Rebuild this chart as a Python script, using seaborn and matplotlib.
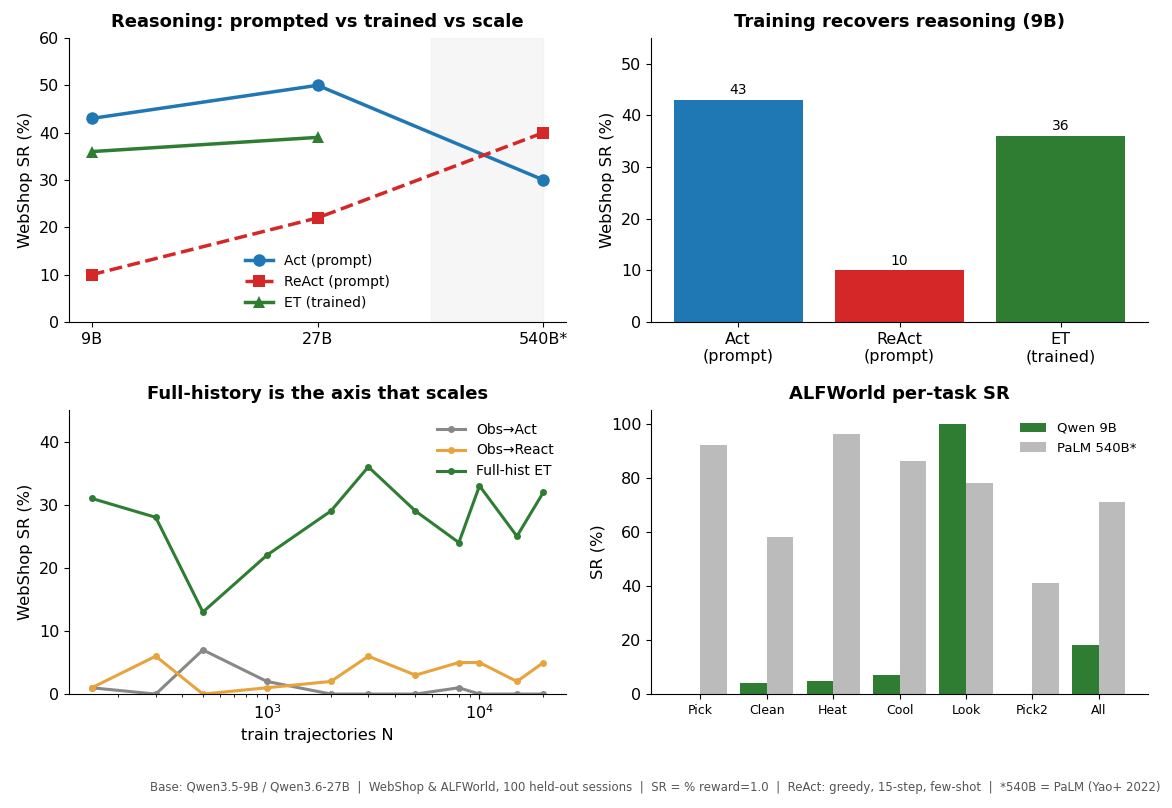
import numpy as np
import pandas as pd
import seaborn as sns
import matplotlib.pyplot as plt
from matplotlib.ticker import MultipleLocator

plt.rcParams['font.family'] = ['DejaVu Sans']

# panel 1: prompted vs trained vs scale
sizes = ["9B", "27B", "540B*"]
act_prompt = [43, 50, 30]
react_prompt = [10, 22, 40]
et_trained = [36, 39, np.nan]

# panel 2: 9B bars
methods = ["Act\n(prompt)", "ReAct\n(prompt)", "ET\n(trained)"]
sr_9b = [43, 10, 36]

# panel 3: scaling with N
n_traj = [150, 300, 500, 1000, 2000, 3000, 5000, 8000, 10000, 15000, 20000]
obs_act = [1, 0, 7, 2, 0, 0, 0, 1, 0, 0, 0]
obs_react = [1, 6, 0, 1, 2, 6, 3, 5, 5, 2, 5]
full_et = [31, 28, 13, 22, 29, 36, 29, 24, 33, 25, 32]

# panel 4: ALFWorld per task
tasks = ["Pick", "Clean", "Heat", "Cool", "Look", "Pick2", "All"]
qwen_9b = [0, 4, 5, 7, 100, 0, 18]
palm_540b = [92, 58, 96, 86, 78, 41, 71]

BLUE, RED, GREEN = '#1f77b4', '#d62728', '#2e7d32'
ORANGE, GREY = '#e8a33d', '#888888'
LAB, TCK = 11.7, 11.5

fig, axes = plt.subplots(2, 2, figsize=(11.72, 8.08), dpi=100)

# --- top left
ax = axes[0, 0]
xs = np.arange(len(sizes))
ax.axvspan(1.5, 2.0, color='#eeeeee', alpha=0.5, zorder=0)
sns.lineplot(x=xs, y=act_prompt, ax=ax, color=BLUE, marker='o', markersize=9,
             linewidth=2.5, label='Act (prompt)', markeredgewidth=0)
sns.lineplot(x=xs, y=react_prompt, ax=ax, color=RED, marker='s', markersize=8,
             linewidth=2.5, linestyle='--', label='ReAct (prompt)', markeredgewidth=0)
sns.lineplot(x=xs[:2], y=et_trained[:2], ax=ax, color=GREEN, marker='^', markersize=8,
             linewidth=2.5, label='ET (trained)', markeredgewidth=0)
ax.set_xticks(xs)
ax.set_xticklabels(sizes)
ax.set_xlim(-0.1, 2.1)
ax.set_ylim(0, 60)
ax.set_ylabel('WebShop SR (%)', fontsize=LAB)
ax.tick_params(labelsize=TCK)
ax.set_title('Reasoning: prompted vs trained vs scale', fontsize=13, fontweight='bold', pad=8)
ax.legend(loc='lower center', frameon=False, fontsize=10)

# --- top right
ax = axes[0, 1]
df2 = pd.DataFrame({'method': methods, 'sr': sr_9b})
sns.barplot(data=df2, x='method', y='sr', hue='method', ax=ax,
            palette=[BLUE, RED, GREEN], saturation=1, width=0.8, legend=False,
            linewidth=0, edgecolor='none')
for c in ax.containers:
    ax.bar_label(c, fontsize=10, padding=2)
ax.set_xlim(-0.54, 2.54)
ax.set_ylim(0, 55)
ax.set_xlabel('')
ax.set_ylabel('WebShop SR (%)', fontsize=LAB)
ax.tick_params(labelsize=TCK)
ax.set_title('Training recovers reasoning (9B)', fontsize=13, fontweight='bold', pad=8)

# --- bottom left
ax = axes[1, 0]
for vals, col, lab in [(obs_act, GREY, 'Obs→Act'), (obs_react, ORANGE, 'Obs→React'),
                       (full_et, GREEN, 'Full-hist ET')]:
    sns.lineplot(x=n_traj, y=vals, ax=ax, color=col, marker='o', markersize=5,
                 linewidth=2.2, label=lab, markeredgewidth=0)
ax.set_xscale('log')
ax.set_ylim(0, 45)
ax.yaxis.set_major_locator(MultipleLocator(10))
ax.set_xlabel('train trajectories N', fontsize=LAB)
ax.set_ylabel('WebShop SR (%)', fontsize=LAB)
ax.tick_params(labelsize=TCK)
ax.set_title('Full-history is the axis that scales', fontsize=13, fontweight='bold', pad=8)
ax.legend(loc='upper right', frameon=False, fontsize=10)

# --- bottom right
ax = axes[1, 1]
df4 = pd.DataFrame({'task': tasks * 2, 'sr': qwen_9b + palm_540b,
                    'model': ['Qwen 9B'] * len(tasks) + ['PaLM 540B*'] * len(tasks)})
sns.barplot(data=df4, x='task', y='sr', hue='model', ax=ax,
            palette=[GREEN, '#bbbbbb'], saturation=1, width=0.8,
            linewidth=0, edgecolor='none')
ax.set_xlim(-0.74, 6.74)
ax.set_ylim(0, 105)
ax.set_xlabel('')
ax.set_ylabel('SR (%)', fontsize=LAB)
ax.tick_params(axis='y', labelsize=TCK)
ax.tick_params(axis='x', labelsize=9)
ax.set_title('ALFWorld per-task SR', fontsize=13, fontweight='bold', pad=8)
ax.legend(loc='upper right', frameon=False, fontsize=9.5, title=None)

for a in axes.flat:
    sns.despine(ax=a)

fig.text(0.99, 0.025, 'Base: Qwen3.5-9B / Qwen3.6-27B  |  WebShop & ALFWorld, 100 held-out sessions  |  '
         'SR = % reward=1.0  |  ReAct: greedy, 15-step, few-shot  |  *540B = PaLM (Yao+ 2022)',
         ha='right', va='center', fontsize=8.5, color='#555555')
fig.subplots_adjust(left=0.059, right=0.9795, top=0.953, bottom=0.141,
                    wspace=0.171, hspace=0.31)
plt.savefig('out.png', dpi=100)
